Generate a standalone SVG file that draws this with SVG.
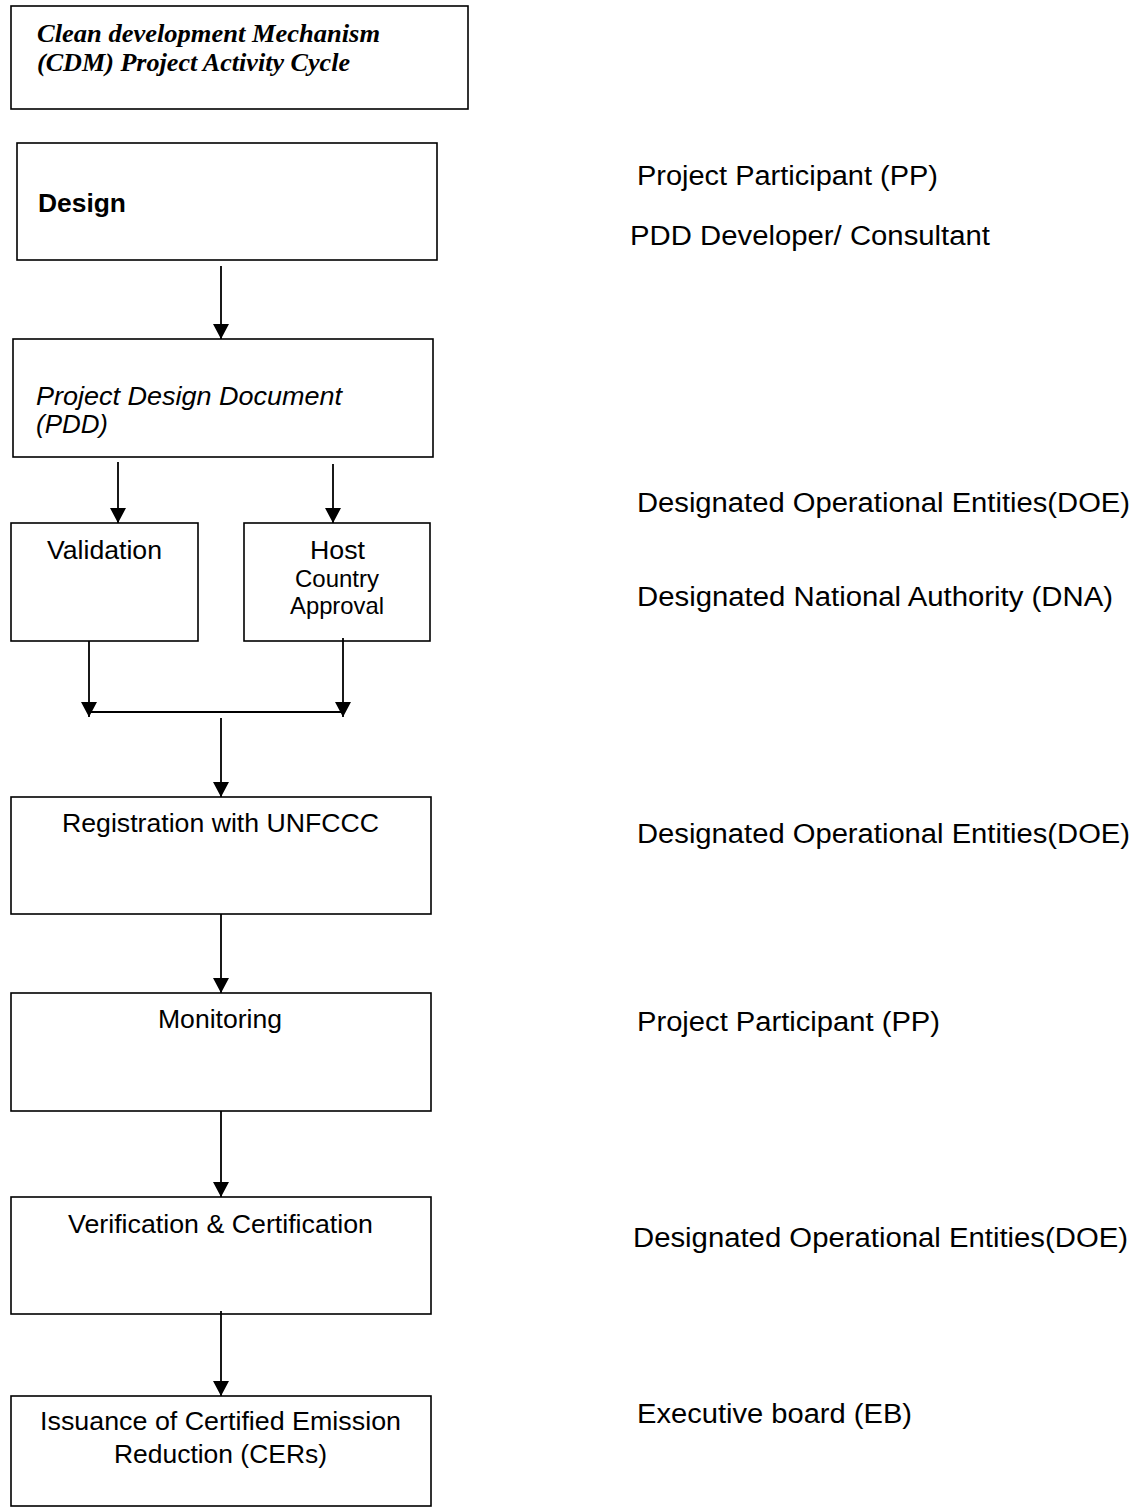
<svg xmlns="http://www.w3.org/2000/svg" width="1143" height="1508" viewBox="0 0 1143 1508">
<style>
.box{fill:#fff;stroke:#000;stroke-width:1.6}
.t{font-family:"Liberation Sans",Arial,sans-serif;font-size:26px;fill:#000}
.s{font-size:24px}
.r{font-family:"Liberation Sans",Arial,sans-serif;font-size:27px;fill:#000}
.ttl{font-family:"Liberation Serif","Times New Roman",serif;font-size:25px;font-weight:bold;font-style:italic;fill:#000}
.c line,.c path{stroke:#000;stroke-width:1.8;fill:none}
</style>
<defs>
<marker id="ah" markerUnits="userSpaceOnUse" markerWidth="16" markerHeight="16" refX="15" refY="8" orient="auto">
<path d="M0,0 L15,8 L0,16 z" fill="#000"/>
</marker>
</defs>
<rect width="1143" height="1508" fill="#fff"/>

<g id="title">
<rect class="box" x="11" y="6" width="457" height="103"/>
<text class="ttl" x="37" y="42" textLength="343" lengthAdjust="spacingAndGlyphs">Clean development Mechanism</text>
<text class="ttl" x="37" y="71" textLength="313" lengthAdjust="spacingAndGlyphs">(CDM) Project Activity Cycle</text>
</g>

<g id="design">
<rect class="box" x="17" y="143" width="420" height="117"/>
<text class="t" x="38" y="212" font-weight="bold" textLength="88" lengthAdjust="spacingAndGlyphs">Design</text>
</g>

<g id="pdd">
<rect class="box" x="13" y="339" width="420" height="118"/>
<text class="t" x="36" y="405" font-size="24" font-style="italic" textLength="306" lengthAdjust="spacingAndGlyphs">Project Design Document</text>
<text class="t" x="36" y="433" font-size="24" font-style="italic" textLength="72" lengthAdjust="spacingAndGlyphs">(PDD)</text>
</g>

<g id="validation">
<rect class="box" x="11" y="523" width="187" height="118"/>
<text class="t" x="47" y="559" textLength="115" lengthAdjust="spacingAndGlyphs">Validation</text>
</g>

<g id="host">
<rect class="box" x="244" y="523" width="186" height="118"/>
<text class="t" x="310" y="559" textLength="55" lengthAdjust="spacingAndGlyphs">Host</text>
<text class="t s" x="295" y="587" textLength="84" lengthAdjust="spacingAndGlyphs">Country</text>
<text class="t s" x="290" y="614" textLength="94" lengthAdjust="spacingAndGlyphs">Approval</text>
</g>

<g id="registration">
<rect class="box" x="11" y="797" width="420" height="117"/>
<text class="t" x="62" y="832" textLength="317" lengthAdjust="spacingAndGlyphs">Registration with UNFCCC</text>
</g>

<g id="monitoring">
<rect class="box" x="11" y="993" width="420" height="118"/>
<text class="t" x="158" y="1028" textLength="124" lengthAdjust="spacingAndGlyphs">Monitoring</text>
</g>

<g id="verification">
<rect class="box" x="11" y="1197" width="420" height="117"/>
<text class="t" x="68" y="1233" textLength="305" lengthAdjust="spacingAndGlyphs">Verification &amp; Certification</text>
</g>

<g id="issuance">
<rect class="box" x="11" y="1396" width="420" height="110"/>
<text class="t" x="40" y="1430" textLength="361" lengthAdjust="spacingAndGlyphs">Issuance of Certified Emission</text>
<text class="t" x="114" y="1463" textLength="213" lengthAdjust="spacingAndGlyphs">Reduction (CERs)</text>
</g>

<g id="labels">
<text class="r" x="637" y="185" textLength="301" lengthAdjust="spacingAndGlyphs">Project Participant (PP)</text>
<text class="r" x="630" y="245" textLength="360" lengthAdjust="spacingAndGlyphs">PDD Developer/ Consultant</text>
<text class="r" x="637" y="512" textLength="493" lengthAdjust="spacingAndGlyphs">Designated Operational Entities(DOE)</text>
<text class="r" x="637" y="606" textLength="476" lengthAdjust="spacingAndGlyphs">Designated National Authority (DNA)</text>
<text class="r" x="637" y="843" textLength="493" lengthAdjust="spacingAndGlyphs">Designated Operational Entities(DOE)</text>
<text class="r" x="637" y="1031" textLength="303" lengthAdjust="spacingAndGlyphs">Project Participant (PP)</text>
<text class="r" x="633" y="1247" textLength="495" lengthAdjust="spacingAndGlyphs">Designated Operational Entities(DOE)</text>
<text class="r" x="637" y="1423" textLength="275" lengthAdjust="spacingAndGlyphs">Executive board (EB)</text>
</g>

<g id="connectors" class="c">
<line x1="221" y1="266" x2="221" y2="339" marker-end="url(#ah)"/>
<line x1="118" y1="462" x2="118" y2="523" marker-end="url(#ah)"/>
<line x1="333" y1="464" x2="333" y2="523" marker-end="url(#ah)"/>
<line x1="89" y1="641" x2="89" y2="717" marker-end="url(#ah)"/>
<line x1="343" y1="638" x2="343" y2="717" marker-end="url(#ah)"/>
<line x1="89" y1="712" x2="343" y2="712"/>
<line x1="221" y1="718" x2="221" y2="797" marker-end="url(#ah)"/>
<line x1="221" y1="914" x2="221" y2="993" marker-end="url(#ah)"/>
<line x1="221" y1="1111" x2="221" y2="1197" marker-end="url(#ah)"/>
<line x1="221" y1="1311" x2="221" y2="1396" marker-end="url(#ah)"/>
</g>
</svg>
